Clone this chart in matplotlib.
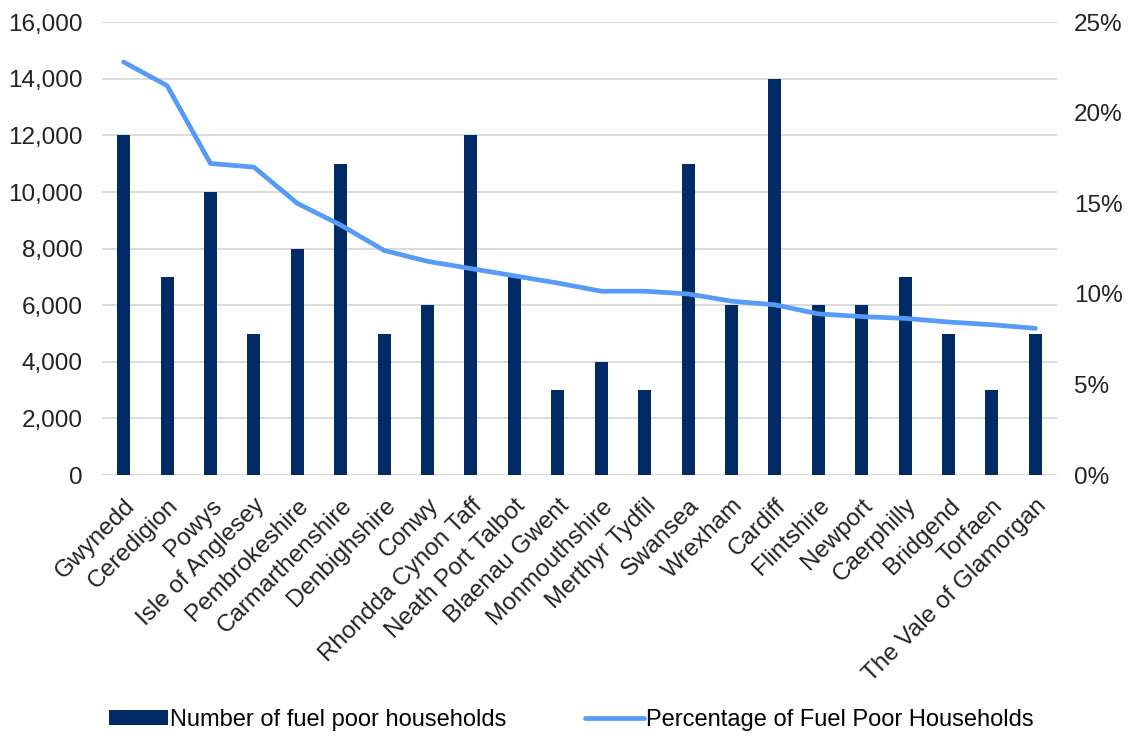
import matplotlib.pyplot as plt
from matplotlib.ticker import FuncFormatter

areas = ["Gwynedd", "Ceredigion", "Powys", "Isle of Anglesey", "Pembrokeshire",
         "Carmarthenshire", "Denbighshire", "Conwy", "Rhondda Cynon Taff",
         "Neath Port Talbot", "Blaenau Gwent", "Monmouthshire", "Merthyr Tydfil",
         "Swansea", "Wrexham", "Cardiff", "Flintshire", "Newport", "Caerphilly",
         "Bridgend", "Torfaen", "The Vale of Glamorgan"]
households = [12000, 7000, 10000, 5000, 8000, 11000, 5000, 6000, 12000, 7000, 3000,
              4000, 3000, 11000, 6000, 14000, 6000, 6000, 7000, 5000, 3000, 5000]
pct = [22.8, 21.5, 17.2, 17.0, 15.0, 13.8, 12.4, 11.8, 11.4, 11.0, 10.6,
       10.15, 10.15, 10.0, 9.6, 9.4, 8.9, 8.75, 8.65, 8.45, 8.3, 8.1]

plt.rcParams['font.family'] = ['Liberation Sans', 'DejaVu Sans']

fig = plt.figure(figsize=(11.29, 7.40), dpi=100)
ax = fig.add_axes([0.0903, 0.358, 0.846, 0.612])
ax2 = ax.twinx()

x = range(len(areas))
bars = ax.bar(x, households, width=0.3, color='#002B66', zorder=2,
              label='Number of fuel poor households')
line, = ax2.plot(x, pct, color='#559BF7', lw=3.4, solid_capstyle='round',
                 label='Percentage of Fuel Poor Households')

ax.set_xlim(-0.5, len(areas) - 0.5)
ax.set_ylim(0, 16000)
ax.set_yticks(range(0, 16001, 2000))
ax.yaxis.set_major_formatter(FuncFormatter(lambda v, p: f"{int(v):,}"))
ax2.set_ylim(0, 25)
ax2.set_yticks(range(0, 26, 5))
ax2.yaxis.set_major_formatter(FuncFormatter(lambda v, p: f"{int(v)}%"))

ax.grid(axis='y', color='#D4D4D4', lw=1.2, zorder=0)
for a in (ax, ax2):
    for s in a.spines.values():
        s.set_visible(False)
    a.tick_params(length=0, labelsize=17.5, colors='#222222')
ax.tick_params(axis='y', pad=14)
ax2.tick_params(axis='y', pad=12)

ax.set_xticks(list(x))
ax.set_xticklabels(areas, rotation=45, ha='right', rotation_mode='anchor',
                   fontsize=17.5)
ax.tick_params(axis='x', pad=14)

fig.legend([bars, line], [bars.get_label(), line.get_label()],
           loc='center', bbox_to_anchor=(0.506, 0.027), ncol=2,
           frameon=False, handlelength=2.5, handleheight=0.6, handletextpad=0.1,
           columnspacing=3.3, prop={'size': 17})

fig.savefig('out.png', dpi=100)
